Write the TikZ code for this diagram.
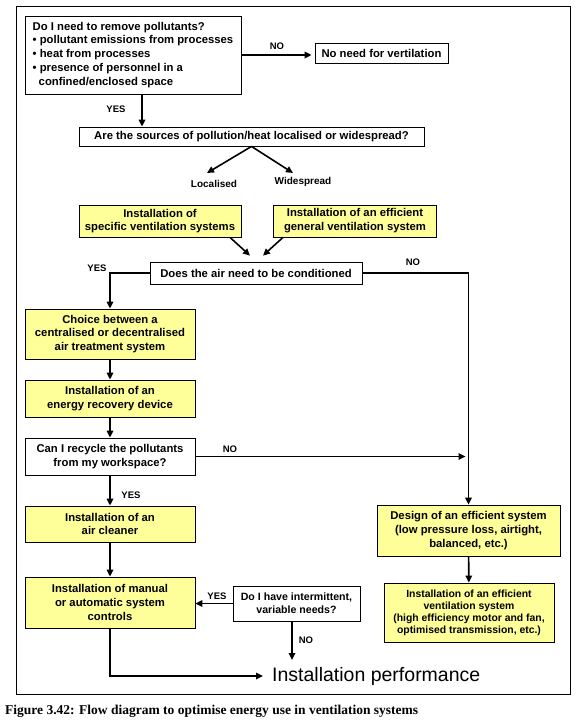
\documentclass[tikz,border=0pt]{standalone}
\usepackage{fontspec}
\setmainfont{Liberation Sans}
\newfontfamily\capfont{Liberation Serif}
\usetikzlibrary{arrows.meta}
\definecolor{boxyellow}{RGB}{255,255,153}
\begin{document}
\begin{tikzpicture}[x=1pt,y=-1pt,
  box/.style={draw=black,line width=0.8pt,font=\bfseries\fontsize{11.3}{13.8}\selectfont,align=center,inner sep=0pt},
  ybox/.style={box,fill=boxyellow},
  wbox/.style={box,fill=white},
  arr/.style={line width=1.6pt,-{Triangle[length=7pt,width=6.5pt]}},
  lab/.style={font=\bfseries\fontsize{9.5}{11}\selectfont,inner sep=0pt}]
\useasboundingbox (0,0) rectangle (579,720);
\draw[line width=1pt] (16,6) rectangle (570,694);

% nodes
\node[wbox,minimum width=216pt,minimum height=78pt] (q1) at (133,55)
 {\begin{tabular}{@{}l@{}}Do I need to remove pollutants?\\
 • pollutant emissions from processes\\
 • heat from processes\\
 • presence of personnel in a\\
 \hspace*{6pt}confined/enclosed space\end{tabular}};
\node[wbox,minimum width=133pt,minimum height=20pt] (noneed) at (381.5,53) {No need for vertilation};
\node[wbox,minimum width=345pt,minimum height=19pt] (are) at (251.5,136.5) {Are the sources of pollution/heat localised or widespread?};
\node[lab,font=\bfseries\fontsize{10}{12}\selectfont] (loc) at (214,184) {Localised};
\node[lab,font=\bfseries\fontsize{10}{12}\selectfont] (wide) at (303,182) {Widespread};
\node[ybox,minimum width=162pt,minimum height=32pt] (spec) at (160,221) {Installation of\\specific ventilation systems};
\node[ybox,minimum width=163pt,minimum height=32pt] (gen) at (355,221) {Installation of an efficient\\general ventilation system};
\node[wbox,minimum width=212pt,minimum height=22pt] (does) at (256,273) {Does the air need to be conditioned};
\node[ybox,minimum width=170pt,minimum height=50pt] (choice) at (110,334) {Choice between a\\centralised or decentralised\\air treatment system};
\node[ybox,minimum width=170pt,minimum height=37pt] (energy) at (110,398.5) {Installation of an\\energy recovery device};
\node[wbox,minimum width=170pt,minimum height=37pt] (recyc) at (110,456.5) {Can I recycle the pollutants\\from my workspace?};
\node[ybox,minimum width=170pt,minimum height=36pt] (clean) at (110,524) {Installation of an\\air cleaner};
\node[ybox,minimum width=170pt,minimum height=51pt] (manual) at (110,602.5) {Installation of manual\\or automatic system\\controls};
\node[wbox,minimum width=127pt,minimum height=35pt,font=\bfseries\fontsize{10.6}{13}\selectfont] (inter) at (296.5,603.5) {Do I have intermittent,\\variable needs?};
\node[ybox,minimum width=183pt,minimum height=51pt] (design) at (468.5,530.5) {Design of an efficient system\\(low pressure loss, airtight,\\balanced, etc.)};
\node[ybox,minimum width=170pt,minimum height=59pt,font=\bfseries\fontsize{10.4}{12}\selectfont] (effic) at (469,612.5) {Installation of an efficient\\ventilation system\\(high efficiency motor and fan,\\optimised transmission, etc.)};
\node[anchor=west,inner xsep=9pt,inner ysep=0pt,font=\fontsize{19.5}{22}\selectfont] (perf) at (263,676) {Installation performance};

% labels
\node[lab] (l1) at (277,46) {NO};
\node[lab] (l2) at (116,109) {YES};
\node[lab] (l3) at (97,268) {YES};
\node[lab] (l4) at (413,262) {NO};
\node[lab] (l5) at (230,449) {NO};
\node[lab] (l6) at (131,495) {YES};
\node[lab] (l7) at (217,596) {YES};
\node[lab] (l8) at (306,640) {NO};

% free ends
\coordinate (locend) at (207,173);
\coordinate (wideend) at (293,173);
\coordinate (noend) at (292,660);

% connectors
\draw[arr,shorten >=3pt] (q1.east) -- (q1.east -| noneed.west);
\draw[arr] (q1.south -| 142,0) -- (are.north -| 142,0);
\draw[arr] (are.south) -- (locend);
\draw[arr] (are.south) -- (wideend);
\draw[arr] ([xshift=70pt]spec.south) -- ([xshift=-6pt,yshift=6pt]does.north);
\draw[arr] ([xshift=-72pt]gen.south) -- ([xshift=7pt,yshift=6pt]does.north);
\draw[arr] (does.west) -| (choice.north);
\draw[arr] (does.east) -| (design.north);
\draw[arr] (choice) -- (energy);
\draw[arr] (energy) -- (recyc);
\draw[arr,shorten >=3pt] (recyc.east) -- (recyc.east -| design.north);
\draw[arr] (recyc) -- (clean);
\draw[arr] (clean) -- (manual);
\draw[arr] (inter.west) -- (inter.west -| manual.east);
\draw[arr] ([xshift=-4.5pt]inter.south) -- (noend);
\draw[arr] (manual.south) |- (perf.west);
\draw[arr] (design) -- (effic);

% caption
\node[anchor=west,inner sep=0pt,font=\capfont\bfseries\fontsize{13.5}{15}\selectfont] (cap) at (5,711) {Figure 3.42: Flow diagram to optimise energy use in ventilation systems};
\end{tikzpicture}
\end{document}
